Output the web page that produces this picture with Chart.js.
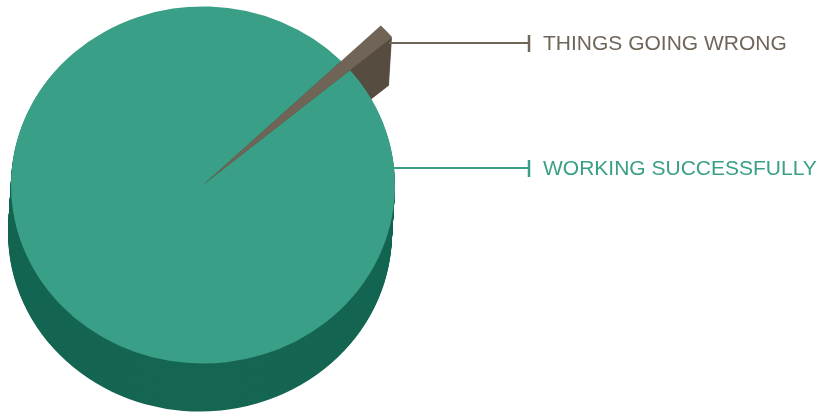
<!DOCTYPE html>
<html lang="en">

<head>
    <meta charset="UTF-8">
    <title>Pie 3D</title>
    <script src="https://cdn.jsdelivr.net/npm/chart.js"></script>
    <style>
        body {
            margin: 0;
            padding: 0;
            background-color: #fff;
        }

        #wrap {
            width: 819px;
            height: 414px;
        }
    </style>
</head>

<body>
    <div id="wrap">
        <canvas id="pieChart" width="819" height="414"></canvas>
    </div>

    <script>
        // Dados do gráfico
        var labels = ['WORKING SUCCESSFULLY', 'THINGS GOING WRONG'];
        var values = [98.9, 1.1];

        // Cores (topo, lateral, texto)
        var topColors = ['#3a9f87', '#6f6455'];
        var sideColors = ['#156653', '#564c40'];
        var textColors = ['#3a9f87', '#6f6659'];

        // Aparência 3D
        var depth = 48;      // altura da lateral
        var skew = -3;       // deslocamento horizontal da base
        var squash = 0.93;   // achatamento vertical
        var bigRadius = 247; // fatia destacada

        // Posição dos rótulos
        var labelY = [168, 43];
        var lineStartX = [374, 389];
        var tickX = 529;
        var textX = 543;

        function wedge(ctx, a, dx, dy, r) {
            ctx.beginPath();
            ctx.moveTo(a.x + dx, a.y + dy);
            ctx.ellipse(a.x + dx, a.y + dy, r, r * squash, 0, a.startAngle, a.endAngle);
            ctx.closePath();
        }

        var pie3d = {
            id: 'pie3d',
            afterDatasetUpdate: function (chart) {
                var arcs = chart.getDatasetMeta(0).data;
                arcs[1].outerRadius = bigRadius;
            },
            beforeDatasetsDraw: function (chart) {
                var ctx = chart.ctx;
                var arcs = chart.getDatasetMeta(0).data;
                ctx.save();
                arcs.forEach(function (a, i) {
                    ctx.fillStyle = sideColors[i];
                    for (var d = depth; d >= 1; d--) {
                        wedge(ctx, a, skew * d / depth, d, a.outerRadius);
                        ctx.fill();
                    }
                });
                ctx.restore();
                // achata o topo
                var c = arcs[0];
                ctx.save();
                ctx.translate(c.x, c.y);
                ctx.scale(1, squash);
                ctx.translate(-c.x, -c.y);
            },
            afterDatasetsDraw: function (chart) {
                var ctx = chart.ctx;
                ctx.restore();
                ctx.save();
                labels.forEach(function (txt, i) {
                    ctx.strokeStyle = textColors[i];
                    ctx.lineWidth = 2;
                    ctx.beginPath();
                    ctx.moveTo(lineStartX[i], labelY[i]);
                    ctx.lineTo(tickX, labelY[i]);
                    ctx.stroke();
                    ctx.lineWidth = 2.5;
                    ctx.beginPath();
                    ctx.moveTo(tickX, labelY[i] - 8);
                    ctx.lineTo(tickX, labelY[i] + 9);
                    ctx.stroke();
                    ctx.fillStyle = textColors[i];
                    ctx.font = '21px "Liberation Sans", Arial, sans-serif';
                    ctx.textBaseline = 'middle';
                    ctx.fillText(txt, textX, labelY[i] + 1);
                });
                ctx.restore();
            }
        };

        new Chart(document.getElementById('pieChart').getContext('2d'), {
            type: 'pie',
            data: {
                labels: labels,
                datasets: [{
                    data: values,
                    backgroundColor: topColors,
                    borderWidth: 0
                }]
            },
            options: {
                responsive: false,
                animation: false,
                events: [],
                rotation: 50,
                radius: 192,
                layout: {
                    padding: { left: 11, right: 424, top: 0, bottom: 44 }
                },
                plugins: {
                    legend: { display: false },
                    tooltip: { enabled: false }
                }
            },
            plugins: [pie3d]
        });
    </script>

</body>

</html>
